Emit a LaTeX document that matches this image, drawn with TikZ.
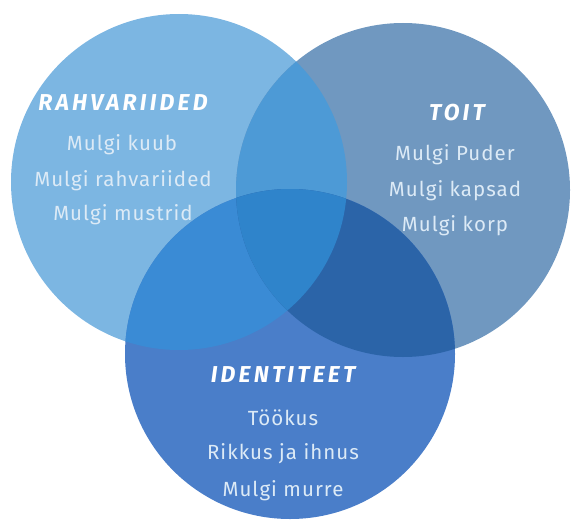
\documentclass[tikz,border=0pt]{standalone}
\usepackage{fontspec}
\setmainfont{Fira Sans}
\newfontfamily\titlefont[LetterSpace=14]{Fira Sans}
\newfontfamily\itemfont[LetterSpace=5]{Fira Sans}
\definecolor{cA}{HTML}{7CB6E2}
\definecolor{cB}{HTML}{7098C0}
\definecolor{cC}{HTML}{4A7EC9}
\definecolor{cAB}{HTML}{4D9AD6}
\definecolor{cAC}{HTML}{3A8BD5}
\definecolor{cBC}{HTML}{2B64A8}
\definecolor{cABC}{HTML}{2F84CB}
\definecolor{itemcol}{HTML}{DCEAF6}
\begin{document}
\begin{tikzpicture}[x=1pt,y=-1pt,
  ttl/.style={text=white,font=\titlefont\bfseries\itshape\fontsize{23}{26}\selectfont,anchor=center,inner sep=0pt},
  itm/.style={text=itemcol,font=\itemfont\fontsize{20.5}{24}\selectfont,anchor=center,inner sep=0pt}]
\useasboundingbox (0,0) rectangle (572,524);
\def\circA{(179,182) circle[radius=168]}
\def\circB{(403,190) circle[radius=167]}
\def\circC{(290,354) circle[radius=165]}
\fill[cA] \circA;
\fill[cB] \circB;
\fill[cC] \circC;
\begin{scope}\clip \circA; \fill[cAB] \circB; \fill[cAC] \circC; \end{scope}
\begin{scope}\clip \circB; \fill[cBC] \circC; \end{scope}
\begin{scope}\clip \circA; \clip \circB; \fill[cABC] \circC; \end{scope}
\node[ttl] (t1) at (123,103) {RAHVARIIDED};
\node[itm] (a1) at (122,145) {Mulgi kuub};
\node[itm] (a2) at (123,181) {Mulgi rahvariided};
\node[itm] (a3) at (123,215) {Mulgi mustrid};
\node[ttl] (t2) at (457,113) {TOIT};
\node[itm] (b1) at (455,155) {Mulgi Puder};
\node[itm] (b2) at (455,191) {Mulgi kapsad};
\node[itm] (b3) at (455,226) {Mulgi korp};
\node[ttl] (t3) at (283,375) {IDENTITEET};
\node[itm] (c1) at (283,418) {Töökus};
\node[itm] (c2) at (283,454) {Rikkus ja ihnus};
\node[itm] (c3) at (283,491) {Mulgi murre};
\end{tikzpicture}
\end{document}
